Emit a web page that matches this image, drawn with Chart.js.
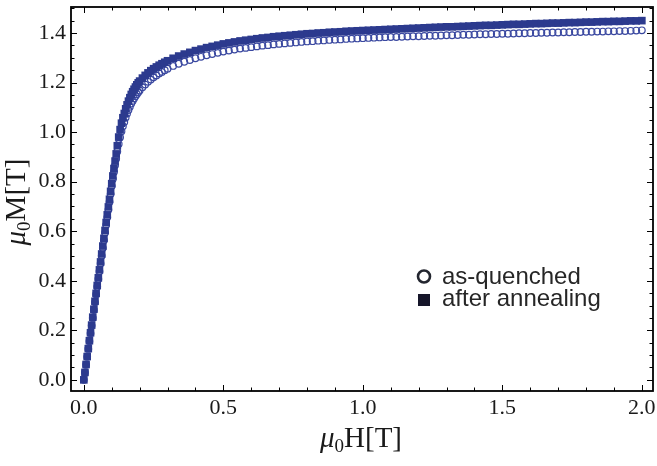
<!DOCTYPE html>
<html>
<head>
<meta charset="utf-8">
<script src="https://cdn.jsdelivr.net/npm/chart.js@4.4.1/dist/chart.umd.min.js"></script>
<style>
  html, body { margin: 0; padding: 0; background: #fff; }
  canvas { display: block; }
</style>
</head>
<body>
<canvas id="magChart" width="657" height="466"></canvas>
<script>
// applied field mu0H in tesla, shared by both measurements
const fieldT = [
  0, 0.004, 0.008, 0.012, 0.016, 0.02, 0.024, 0.028, 0.032, 0.036, 0.04,
  0.044, 0.048, 0.052, 0.056, 0.06, 0.064, 0.068, 0.072, 0.076, 0.08,
  0.084, 0.088, 0.092, 0.096, 0.1, 0.104, 0.108, 0.112, 0.116, 0.12,
  0.125, 0.13, 0.135, 0.14, 0.145, 0.15, 0.155, 0.16, 0.165, 0.17,
  0.175, 0.18, 0.185, 0.19, 0.195, 0.2,
  0.21, 0.22, 0.23, 0.24, 0.25, 0.26, 0.27, 0.28, 0.29, 0.3,
  0.32, 0.34, 0.36, 0.38, 0.4, 0.42, 0.44, 0.46, 0.48, 0.5,
  0.52, 0.54, 0.56, 0.58, 0.6, 0.62, 0.64, 0.66, 0.68, 0.7,
  0.72, 0.74, 0.76, 0.78, 0.8, 0.82, 0.84, 0.86, 0.88, 0.9,
  0.92, 0.94, 0.96, 0.98, 1.0, 1.02, 1.04, 1.06, 1.08, 1.1,
  1.12, 1.14, 1.16, 1.18, 1.2, 1.22, 1.24, 1.26, 1.28, 1.3,
  1.32, 1.34, 1.36, 1.38, 1.4, 1.42, 1.44, 1.46, 1.48, 1.5,
  1.52, 1.54, 1.56, 1.58, 1.6, 1.62, 1.64, 1.66, 1.68, 1.7,
  1.72, 1.74, 1.76, 1.78, 1.8, 1.82, 1.84, 1.86, 1.88, 1.9,
  1.92, 1.94, 1.96, 1.98, 2.0
];

// mu0M in tesla, as-quenched ribbon
const magQuenched = [
  0, 0.030, 0.061, 0.093, 0.125, 0.156, 0.188, 0.219, 0.250, 0.282, 0.313,
  0.345, 0.376, 0.407, 0.438, 0.470, 0.501, 0.532, 0.563, 0.594, 0.625,
  0.656, 0.687, 0.718, 0.750, 0.782, 0.811, 0.839, 0.866, 0.892, 0.922,
  0.952, 0.979, 1.003, 1.024, 1.041, 1.059, 1.075, 1.089, 1.102, 1.115,
  1.126, 1.136, 1.145, 1.153, 1.161, 1.168,
  1.181, 1.192, 1.203, 1.212, 1.221, 1.229, 1.237, 1.243, 1.250, 1.256,
  1.267, 1.276, 1.284, 1.291, 1.298, 1.304, 1.310, 1.315, 1.320, 1.325,
  1.329, 1.333, 1.337, 1.340, 1.343, 1.346, 1.349, 1.351, 1.354, 1.356,
  1.358, 1.360, 1.362, 1.364, 1.366, 1.367, 1.369, 1.370, 1.372, 1.373,
  1.374, 1.376, 1.377, 1.378, 1.379, 1.380, 1.381, 1.382, 1.383, 1.384,
  1.384, 1.385, 1.386, 1.387, 1.387, 1.388, 1.389, 1.389, 1.390, 1.391,
  1.391, 1.392, 1.393, 1.393, 1.394, 1.395, 1.395, 1.396, 1.396, 1.397,
  1.397, 1.398, 1.399, 1.399, 1.400, 1.400, 1.401, 1.401, 1.402, 1.402,
  1.403, 1.403, 1.404, 1.404, 1.405, 1.405, 1.406, 1.406, 1.407, 1.407,
  1.408, 1.408, 1.409, 1.410, 1.411
];

// mu0M in tesla, after annealing
const magAnnealed = [
  0, 0.030, 0.062, 0.094, 0.126, 0.158, 0.190, 0.221, 0.253, 0.285, 0.317,
  0.349, 0.381, 0.412, 0.444, 0.476, 0.508, 0.540, 0.571, 0.603, 0.635,
  0.666, 0.698, 0.729, 0.761, 0.792, 0.823, 0.853, 0.883, 0.912, 0.945,
  0.980, 1.010, 1.036, 1.058, 1.075, 1.094, 1.110, 1.125, 1.139, 1.152,
  1.163, 1.173, 1.182, 1.191, 1.199, 1.206,
  1.218, 1.229, 1.239, 1.248, 1.256, 1.263, 1.270, 1.276, 1.282, 1.288,
  1.298, 1.307, 1.315, 1.322, 1.329, 1.335, 1.341, 1.346, 1.351, 1.356,
  1.360, 1.364, 1.368, 1.371, 1.374, 1.377, 1.380, 1.382, 1.385, 1.387,
  1.389, 1.391, 1.393, 1.395, 1.397, 1.398, 1.400, 1.401, 1.403, 1.404,
  1.405, 1.407, 1.408, 1.409, 1.410, 1.411, 1.412, 1.413, 1.414, 1.415,
  1.416, 1.417, 1.418, 1.419, 1.420, 1.421, 1.422, 1.423, 1.424, 1.425,
  1.425, 1.426, 1.427, 1.428, 1.429, 1.430, 1.431, 1.431, 1.432, 1.433,
  1.434, 1.435, 1.435, 1.436, 1.437, 1.438, 1.438, 1.439, 1.440, 1.440,
  1.441, 1.442, 1.442, 1.443, 1.444, 1.444, 1.445, 1.446, 1.446, 1.447,
  1.447, 1.448, 1.449, 1.449, 1.450
];

const seriesNames = ['as-quenched', 'after annealing'];
const xTickValues = [0, 0.5, 1.0, 1.5, 2.0];
const yTickValues = [0, 0.2, 0.4, 0.6, 0.8, 1.0, 1.2, 1.4];

const serif = "'Liberation Serif', 'Times New Roman', serif";
const sans = "'Liberation Sans', Arial, sans-serif";
const navy = '#2c3a8e';

const toPoints = (ys) => fieldT.map((h, i) => ({ x: h, y: ys[i] }));

// draws "mu_0 X[T]" with an italic mu and a small subscript zero
function drawMuLabel(ctx, letter, cx, baseline) {
  const big = 29, small = 19;
  const parts = [
    { t: '\u03bc', font: `italic ${big}px ${serif}`, dy: 0 },
    { t: '0', font: `${small}px ${serif}`, dy: 5 },
    { t: letter + '[T]', font: `${big}px ${serif}`, dy: 0 }
  ];
  let total = 0;
  parts.forEach(p => { ctx.font = p.font; p.w = ctx.measureText(p.t).width; total += p.w; });
  let x = cx - total / 2;
  ctx.textAlign = 'left';
  ctx.textBaseline = 'alphabetic';
  parts.forEach(p => { ctx.font = p.font; ctx.fillText(p.t, x, baseline + p.dy); x += p.w; });
}

// frame with inward ticks on all four sides, axis titles and the legend
const framePlugin = {
  id: 'frame',
  afterDraw(chart) {
    const { ctx, chartArea: a, scales: { x, y } } = chart;
    ctx.save();
    ctx.strokeStyle = '#000';
    ctx.lineWidth = 1.8;
    ctx.strokeRect(a.left, a.top, a.right - a.left, a.bottom - a.top);

    ctx.lineWidth = 1;
    ctx.beginPath();
    for (let k = 0; k <= 20; k++) {
      const px = Math.round(x.getPixelForValue(k / 10)) + 0.5;
      const len = k % 5 === 0 ? 6 : 3.5;
      ctx.moveTo(px, a.bottom); ctx.lineTo(px, a.bottom - len);
      ctx.moveTo(px, a.top); ctx.lineTo(px, a.top + len);
    }
    for (let k = 0; k <= 30; k++) {
      const py = Math.round(y.getPixelForValue(k * 0.05)) + 0.5;
      const len = k % 4 === 0 ? 6 : 3.5;
      ctx.moveTo(a.left, py); ctx.lineTo(a.left + len, py);
      ctx.moveTo(a.right, py); ctx.lineTo(a.right - len, py);
    }
    ctx.stroke();

    ctx.fillStyle = '#1a1a1a';
    drawMuLabel(ctx, 'H', 361, 447);
    ctx.save();
    ctx.translate(25, 202);
    ctx.rotate(-Math.PI / 2);
    drawMuLabel(ctx, 'M', 0, 0);
    ctx.restore();

    // legend
    ctx.strokeStyle = '#23262f';
    ctx.lineWidth = 2.6;
    ctx.beginPath();
    ctx.arc(424, 276.5, 6, 0, Math.PI * 2);
    ctx.stroke();
    ctx.fillStyle = '#16162a';
    ctx.fillRect(418, 294, 12, 12);
    ctx.fillStyle = '#262626';
    ctx.font = `24px ${sans}`;
    ctx.textAlign = 'left';
    ctx.textBaseline = 'alphabetic';
    ctx.fillText(seriesNames[0], 442, 284);
    ctx.fillText(seriesNames[1], 442, 306);
    ctx.restore();
  }
};

new Chart(document.getElementById('magChart'), {
  type: 'scatter',
  data: {
    datasets: [
      {
        label: seriesNames[1],
        data: toPoints(magAnnealed),
        pointStyle: 'rect',
        pointRadius: 5.4,
        borderWidth: 0,
        backgroundColor: navy,
        borderColor: navy
      },
      {
        label: seriesNames[0],
        data: toPoints(magQuenched),
        pointStyle: 'circle',
        pointRadius: 3.3,
        borderWidth: 1.2,
        backgroundColor: 'rgba(0,0,0,0)',
        borderColor: '#3a48a0'
      }
    ]
  },
  options: {
    responsive: false,
    animation: false,
    layout: { autoPadding: false, padding: { top: 7, right: 4, left: 0, bottom: 0 } },
    plugins: { legend: { display: false }, tooltip: { enabled: false } },
    scales: {
      x: {
        type: 'linear',
        min: -0.046,
        max: 2.04,
        grid: { display: false, drawTicks: false },
        border: { display: false },
        afterBuildTicks: (s) => { s.ticks = xTickValues.map(v => ({ value: v })); },
        // fixed axis band; end labels may overhang the plot edges
        afterFit: (s) => { s.height = 75; s.paddingLeft = 0; s.paddingRight = 0; },
        ticks: {
          padding: 4,
          color: '#1a1a1a',
          font: { family: serif, size: 22 },
          callback: (v) => v.toFixed(1)
        }
      },
      y: {
        type: 'linear',
        min: -0.045,
        max: 1.505,
        grid: { display: false, drawTicks: false },
        border: { display: false },
        afterBuildTicks: (s) => { s.ticks = yTickValues.map(v => ({ value: v })); },
        afterFit: (s) => { s.width = 71; s.paddingTop = 0; s.paddingBottom = 0; },
        ticks: {
          padding: 5,
          color: '#1a1a1a',
          font: { family: serif, size: 22 },
          callback: (v) => v.toFixed(1)
        }
      }
    }
  },
  plugins: [framePlugin]
});
</script>
</body>
</html>
